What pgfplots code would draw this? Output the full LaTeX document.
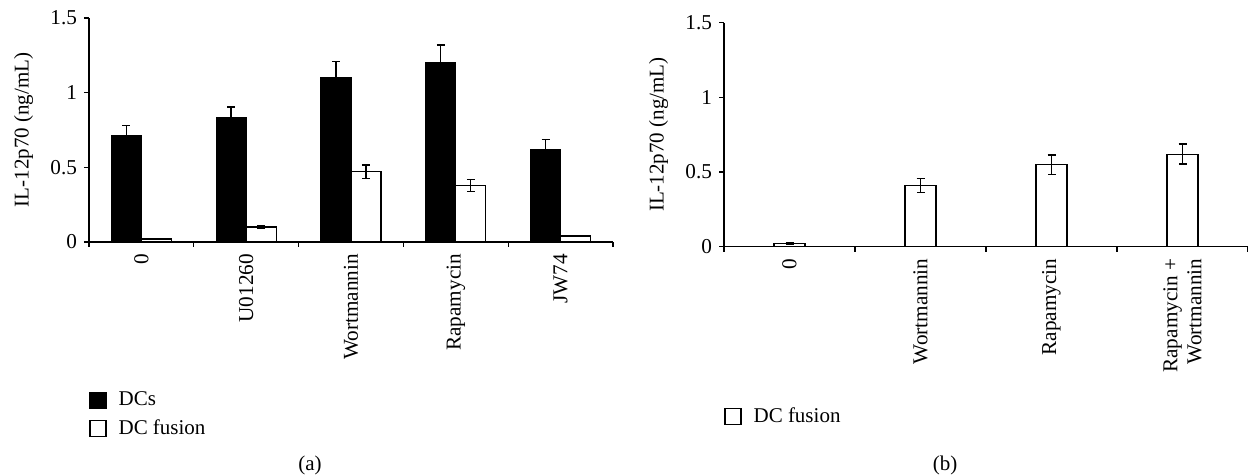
\documentclass[border=0pt]{standalone}
\usepackage{fontspec}
\setmainfont{Liberation Serif}
\usepackage{pgfplots}
\pgfplotsset{compat=1.18}

% common look of both panels (1px of the reference = 0.5pt)
\pgfplotsset{
  panel/.style={
    scale only axis, width=262pt, height=112pt,
    ymin=0, ymax=1.5, ytick={0,0.5,1,1.5},
    axis x line=bottom, axis y line=left,
    axis line style={-, line width=0.6pt},
    tick align=outside, tick style={line width=0.6pt, black},
    major tick length=2.5pt, minor tick length=2.5pt,
    major x tick style={draw=none},
    /pgf/number format/assume math mode=true,
    tick label style={font=\fontsize{10.6}{12}\selectfont},
    x tick label style={rotate=90, anchor=east, align=right},
    ylabel={IL-12p70 (ng/mL)},
    ylabel style={at={(axis description cs:-0.125,0.5)}, anchor=center,
                  font=\fontsize{10.5}{12}\selectfont},
    ybar=0pt, bar width=15pt,
    error bars/error bar style={line width=0.7pt, black},
    error bars/error mark options={rotate=90, mark size=2pt, line width=0.7pt, black},
    legend style={draw=none, fill=none, inner sep=0pt, row sep=1.5pt,
                  cells={anchor=west}, font=\fontsize{10.5}{12}\selectfont,
                  /tikz/every odd column/.append style={column sep=4pt}},
  },
  sqlegend/.style={legend image code/.code={%
      \draw[#1, line width=0.6pt] (0pt,-4pt) rectangle (8pt,4pt);}},
}

\begin{document}
\begin{tikzpicture}
\useasboundingbox (0,0) rectangle (624pt,237.5pt);

% ---- panel (a) ----
\begin{axis}[panel,
    at={(44.5pt,116.5pt)}, anchor=south west,
    xmin=0.5, xmax=5.5,
    xtick={1,2,3,4,5},
    xticklabels={0, U01260, Wortmannin, Rapamycin, JW74},
    minor xtick={0.5,1.5,2.5,3.5,4.5,5.5},
    legend style={at={(axis description cs:0,-0.65)}, anchor=north west},
  ]
  \addplot[draw=black, fill=black, line width=0.6pt, sqlegend,
           error bars/.cd, y dir=plus, y explicit]
    coordinates {(1,0.71) +- (0,0.07) (2,0.83) +- (0,0.075) (3,1.10) +- (0,0.11)
                 (4,1.20) +- (0,0.12) (5,0.62) +- (0,0.065)};
  \addplot[draw=black, fill=white, line width=0.6pt, sqlegend,
           error bars/.cd, y dir=both, y explicit]
    coordinates {(1,0.02) +- (0,0.005) (2,0.10) +- (0,0.008) (3,0.47) +- (0,0.045)
                 (4,0.38) +- (0,0.04) (5,0.04) +- (0,0.005)};
  \legend{DCs, DC fusion}
\end{axis}

% ---- panel (b) ----
\begin{axis}[panel,
    at={(362pt,114.15pt)}, anchor=south west,
    xmin=0.5, xmax=4.5,
    xtick={1,2,3,4},
    xticklabels={0, Wortmannin, Rapamycin, {Rapamycin +\\Wortmannin}},
    minor xtick={0.5,1.5,2.5,3.5,4.5},
    bar width=15.5pt,
    legend style={at={(axis description cs:0,-0.70)}, anchor=north west},
  ]
  \addplot[draw=black, fill=white, line width=0.6pt, sqlegend,
           error bars/.cd, y dir=both, y explicit]
    coordinates {(1,0.02) +- (0,0.005) (2,0.41) +- (0,0.048)
                 (3,0.55) +- (0,0.065) (4,0.62) +- (0,0.067)};
  \legend{DC fusion}
\end{axis}

\node[font=\fontsize{10.5}{12}\selectfont] at (155pt,5pt) {(a)};
\node[font=\fontsize{10.5}{12}\selectfont] at (472.5pt,5pt) {(b)};
\end{tikzpicture}
\end{document}
